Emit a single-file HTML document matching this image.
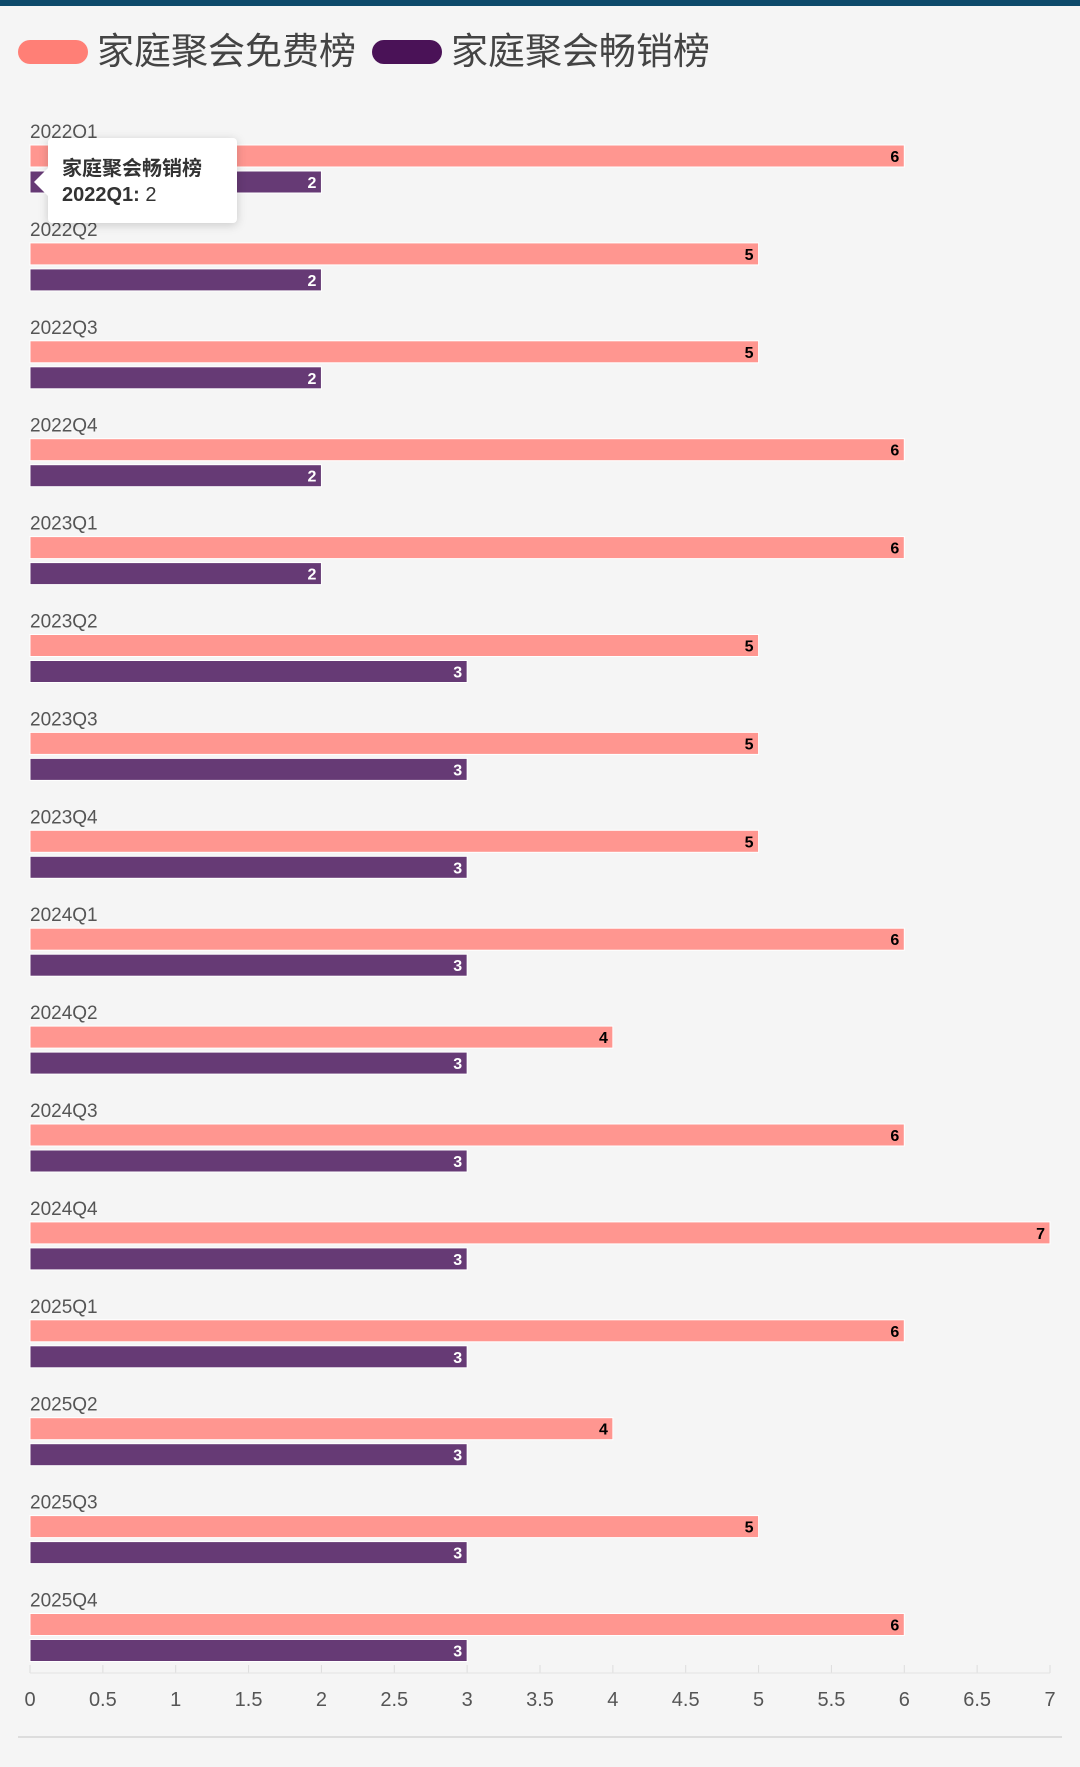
<!DOCTYPE html>
<html><head><meta charset="utf-8"><style>
body{margin:0;width:1080px;height:1767px;background:#f5f5f5;overflow:hidden;font-family:"Liberation Sans","Noto Sans CJK SC",sans-serif;}
#top{position:absolute;left:0;top:0;width:1080px;height:6px;background:#0d4a6b}
.pill{position:absolute;width:70px;height:24px;border-radius:12px}
.lt{position:absolute;font-size:37px;color:#444;line-height:40px}
#tip{position:absolute;left:48px;top:138px;width:189px;height:85px;background:#fff;border-radius:4px;box-shadow:0 2px 10px rgba(0,0,0,.18);font-size:20px;color:#333;}
#tip:before{content:"";position:absolute;left:-14px;top:30px;border:14px solid transparent;border-left:0;border-right-color:#fff}
</style></head><body>
<div id="top"></div>
<div class="pill" style="left:18px;top:40px;background:#ff7f76"></div>
<div class="lt" style="left:97px;top:32px">家庭聚会免费榜</div>
<div class="pill" style="left:372px;top:40px;background:#4a1257"></div>
<div class="lt" style="left:451px;top:32px">家庭聚会畅销榜</div>
<svg id="chart" width="1080" height="1767" style="position:absolute;left:0;top:0"></svg>
<div id="tip">
<div style="position:absolute;left:14px;top:14px;font-weight:bold">家庭聚会畅销榜</div>
<div style="position:absolute;left:14px;top:46px"><b>2022Q1:</b> 2</div></div>
<script>
const categories=["2022Q1","2022Q2","2022Q3","2022Q4","2023Q1","2023Q2","2023Q3","2023Q4","2024Q1","2024Q2","2024Q3","2024Q4","2025Q1","2025Q2","2025Q3","2025Q4"];
const freeValues=[6,5,5,6,6,5,5,5,6,4,6,7,6,4,5,6];
const paidValues=[2,2,2,2,2,3,3,3,3,3,3,3,3,3,3,3];
const ticks=[0,0.5,1,1.5,2,2.5,3,3.5,4,4.5,5,5.5,6,6.5,7];
const svg=document.getElementById('chart');const NS="http://www.w3.org/2000/svg";
const x=v=>30+v*(1020/7);
const y=i=>131+i*97.9;
function mk(t,a){const e=document.createElementNS(NS,t);for(const k in a)e.setAttribute(k,a[k]);svg.appendChild(e);return e;}
ticks.forEach(t=>{
 const l=mk('line',{x1:x(t),x2:x(t),y1:1665,y2:1673,stroke:'#ddd','stroke-width':1});
 
 
 const tx=mk('text',{x:x(t),y:1706,'text-anchor':'middle','font-size':20,fill:'#555'});tx.textContent=t;
 
 
});
const ax=mk('line',{x1:30,x2:1050,y1:1673,y2:1673,stroke:'#e4e4e4','stroke-width':1});


const bl=mk('line',{x1:18,x2:1062,y1:1737,y2:1737,stroke:'#ddd','stroke-width':2});


categories.forEach((c,i)=>{
 const cy=y(i);
 const lab=mk('text',{x:30,y:cy+7,'font-size':19,fill:'#555'});lab.textContent=c;
 
 
 [[freeValues[i],'#ff9690','#000',25,'bar-free'],[paidValues[i],'#663a75','#fff',51,'bar-paid']].forEach(([v,col,tc,off,nm])=>{
  const r=mk('rect',{x:x(0),y:cy+off-11,width:x(v)-x(0),height:22,fill:col,stroke:'#fff','stroke-width':1});
  
  
  const t=mk('text',{x:x(v)-5,y:cy+off+6,'text-anchor':'end','font-size':16,'font-weight':'bold',fill:tc});t.textContent=v;
  
  
 });
});
</script>
</body></html>
